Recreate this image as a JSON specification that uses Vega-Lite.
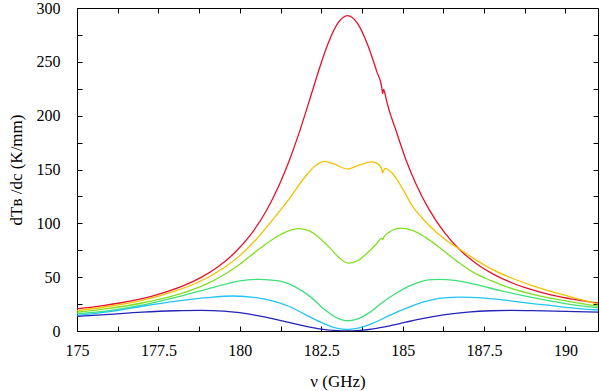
{
  "$schema": "https://vega.github.io/schema/vega-lite/v6.json",
  "width": 521,
  "height": 323,
  "autosize": "none",
  "padding": {"left": 77, "top": 8, "right": 2, "bottom": 60},
  "background": "white",
  "config": {
    "font": "Liberation Serif",
    "view": {"stroke": "black", "strokeWidth": 1},
    "axis": {"domain": false, "grid": false, "tickColor": "black", "tickSize": -5, "tickWidth": 1, "labelFont": "Liberation Serif", "titleFont": "Liberation Serif", "labelFontSize": 16, "labelColor": "black", "titleFontSize": 17, "titleFontWeight": "normal", "titleColor": "black"}
  },
  "data": {"values": [
    {"s":"r","nu":175,"v":20.6},{"s":"r","nu":175.31,"v":21.7},{"s":"r","nu":175.81,"v":23.6},{"s":"r","nu":176.31,"v":26},{"s":"r","nu":176.81,"v":28.9},{"s":"r","nu":177.31,"v":32.5},{"s":"r","nu":177.81,"v":37},{"s":"r","nu":178.31,"v":42.6},{"s":"r","nu":178.81,"v":49.8},{"s":"r","nu":179.31,"v":59.2},{"s":"r","nu":179.81,"v":71.7},{"s":"r","nu":180.31,"v":88.5},{"s":"r","nu":180.81,"v":111.5},{"s":"r","nu":181.21,"v":135.6},{"s":"r","nu":181.51,"v":157.6},{"s":"r","nu":181.81,"v":183.1},{"s":"r","nu":182.11,"v":211.4},{"s":"r","nu":182.41,"v":240.6},{"s":"r","nu":182.71,"v":267},{"s":"r","nu":183.01,"v":286},{"s":"r","nu":183.31,"v":293},{"s":"r","nu":183.61,"v":286},{"s":"r","nu":183.91,"v":267},{"s":"r","nu":184.21,"v":240.7},{"s":"r","nu":184.36,"v":226.3},{"s":"r","nu":184.385,"v":220.5},{"s":"r","nu":184.415,"v":224.5},{"s":"r","nu":184.45,"v":221.5},{"s":"r","nu":184.51,"v":213.5},{"s":"r","nu":184.81,"v":185},{"s":"r","nu":185.11,"v":158.4},{"s":"r","nu":185.41,"v":136.6},{"s":"r","nu":185.81,"v":112.9},{"s":"r","nu":186.31,"v":90.4},{"s":"r","nu":186.81,"v":73.9},{"s":"r","nu":187.31,"v":61.6},{"s":"r","nu":187.81,"v":52.4},{"s":"r","nu":188.31,"v":45.3},{"s":"r","nu":188.81,"v":39.8},{"s":"r","nu":189.31,"v":35.5},{"s":"r","nu":189.81,"v":32},{"s":"r","nu":190.31,"v":29.2},{"s":"r","nu":191,"v":26},
    {"s":"o","nu":175,"v":19},{"s":"o","nu":176,"v":23},{"s":"o","nu":177,"v":28.5},{"s":"o","nu":178,"v":37},{"s":"o","nu":178.5,"v":42.5},{"s":"o","nu":179,"v":49.5},{"s":"o","nu":179.5,"v":58.5},{"s":"o","nu":180,"v":70},{"s":"o","nu":180.5,"v":85},{"s":"o","nu":181,"v":103},{"s":"o","nu":181.5,"v":122},{"s":"o","nu":182,"v":143},{"s":"o","nu":182.3,"v":153},{"s":"o","nu":182.6,"v":157.5},{"s":"o","nu":182.9,"v":155},{"s":"o","nu":183.3,"v":150.5},{"s":"o","nu":183.7,"v":154.5},{"s":"o","nu":184.05,"v":157},{"s":"o","nu":184.25,"v":155},{"s":"o","nu":184.36,"v":150},{"s":"o","nu":184.39,"v":147},{"s":"o","nu":184.45,"v":151},{"s":"o","nu":184.7,"v":146},{"s":"o","nu":185,"v":132},{"s":"o","nu":185.3,"v":116},{"s":"o","nu":185.6,"v":105},{"s":"o","nu":185.85,"v":97},{"s":"o","nu":186.3,"v":85},{"s":"o","nu":186.7,"v":77},{"s":"o","nu":187.2,"v":67},{"s":"o","nu":187.7,"v":58},{"s":"o","nu":188.2,"v":51},{"s":"o","nu":189,"v":42},{"s":"o","nu":190,"v":33},{"s":"o","nu":191,"v":25},
    {"s":"g","nu":175,"v":17.5},{"s":"g","nu":176,"v":21},{"s":"g","nu":177,"v":26},{"s":"g","nu":178,"v":33},{"s":"g","nu":179,"v":44},{"s":"g","nu":179.5,"v":52},{"s":"g","nu":180,"v":62},{"s":"g","nu":180.5,"v":74},{"s":"g","nu":181,"v":85},{"s":"g","nu":181.5,"v":93},{"s":"g","nu":181.8,"v":95},{"s":"g","nu":182.1,"v":93.5},{"s":"g","nu":182.5,"v":85},{"s":"g","nu":182.77,"v":77},{"s":"g","nu":183,"v":69.5},{"s":"g","nu":183.33,"v":63},{"s":"g","nu":183.6,"v":65},{"s":"g","nu":183.9,"v":72},{"s":"g","nu":184.2,"v":81},{"s":"g","nu":184.35,"v":86},{"s":"g","nu":184.39,"v":85},{"s":"g","nu":184.43,"v":87.5},{"s":"g","nu":184.6,"v":92},{"s":"g","nu":184.92,"v":95.5},{"s":"g","nu":185.3,"v":93.5},{"s":"g","nu":185.7,"v":87},{"s":"g","nu":186.2,"v":76},{"s":"g","nu":186.7,"v":64},{"s":"g","nu":187.2,"v":54},{"s":"g","nu":187.7,"v":47},{"s":"g","nu":188.2,"v":41},{"s":"g","nu":189,"v":34},{"s":"g","nu":190,"v":28},{"s":"g","nu":191,"v":23},
    {"s":"sg","nu":175,"v":16},{"s":"sg","nu":176,"v":19},{"s":"sg","nu":177,"v":24},{"s":"sg","nu":178,"v":31},{"s":"sg","nu":179,"v":39},{"s":"sg","nu":179.5,"v":43},{"s":"sg","nu":180,"v":46.5},{"s":"sg","nu":180.6,"v":48},{"s":"sg","nu":181.2,"v":46.5},{"s":"sg","nu":181.7,"v":41},{"s":"sg","nu":182.2,"v":31},{"s":"sg","nu":182.6,"v":20},{"s":"sg","nu":183,"v":12},{"s":"sg","nu":183.3,"v":9.5},{"s":"sg","nu":183.6,"v":11},{"s":"sg","nu":184,"v":17.5},{"s":"sg","nu":184.4,"v":27},{"s":"sg","nu":184.8,"v":35},{"s":"sg","nu":185.3,"v":43},{"s":"sg","nu":185.8,"v":47.5},{"s":"sg","nu":186.1,"v":48},{"s":"sg","nu":186.6,"v":47},{"s":"sg","nu":187.2,"v":43.5},{"s":"sg","nu":188,"v":37.5},{"s":"sg","nu":189,"v":31},{"s":"sg","nu":190,"v":25.5},{"s":"sg","nu":191,"v":21.5},
    {"s":"c","nu":175,"v":14.5},{"s":"c","nu":176,"v":18},{"s":"c","nu":177,"v":23},{"s":"c","nu":178,"v":27.5},{"s":"c","nu":179,"v":31},{"s":"c","nu":179.8,"v":32.5},{"s":"c","nu":180.5,"v":31},{"s":"c","nu":181,"v":28},{"s":"c","nu":181.5,"v":23},{"s":"c","nu":182,"v":15.5},{"s":"c","nu":182.5,"v":8},{"s":"c","nu":183,"v":2.5},{"s":"c","nu":183.3,"v":1.5},{"s":"c","nu":183.6,"v":2.5},{"s":"c","nu":184.1,"v":7.5},{"s":"c","nu":184.6,"v":14.5},{"s":"c","nu":185.1,"v":21},{"s":"c","nu":185.6,"v":26.5},{"s":"c","nu":186.2,"v":30.5},{"s":"c","nu":186.8,"v":31.5},{"s":"c","nu":187.5,"v":30.5},{"s":"c","nu":188.3,"v":28},{"s":"c","nu":189,"v":25.5},{"s":"c","nu":190,"v":22},{"s":"c","nu":191,"v":19.5},
    {"s":"b","nu":175,"v":13.5},{"s":"b","nu":176,"v":15.5},{"s":"b","nu":177,"v":17.5},{"s":"b","nu":178,"v":18.8},{"s":"b","nu":178.8,"v":19.2},{"s":"b","nu":179.5,"v":18.5},{"s":"b","nu":180,"v":17},{"s":"b","nu":180.5,"v":14.5},{"s":"b","nu":181,"v":11.5},{"s":"b","nu":181.5,"v":8},{"s":"b","nu":182,"v":4.5},{"s":"b","nu":182.5,"v":1.8},{"s":"b","nu":183,"v":0.4},{"s":"b","nu":183.3,"v":0.1},{"s":"b","nu":183.6,"v":0.4},{"s":"b","nu":184.1,"v":2},{"s":"b","nu":184.6,"v":4.8},{"s":"b","nu":185.1,"v":8.2},{"s":"b","nu":185.6,"v":11.5},{"s":"b","nu":186.2,"v":14.8},{"s":"b","nu":187,"v":17.5},{"s":"b","nu":187.7,"v":18.8},{"s":"b","nu":188.3,"v":19.2},{"s":"b","nu":189,"v":18.9},{"s":"b","nu":190,"v":18.3},{"s":"b","nu":191,"v":17.5}
  ]},
  "layer": [
    {
      "mark": {"type": "line", "strokeWidth": 1.3, "interpolate": "monotone", "clip": true},
      "encoding": {
        "x": {"field": "nu", "type": "quantitative", "scale": {"domain": [175, 191], "nice": false, "zero": false},
              "axis": {"orient": "bottom", "title": "ν (GHz)", "titleFont": "Liberation Serif", "labelFont": "Liberation Serif", "titlePadding": 15, "labelPadding": 16,
                       "values": [175,176.25,177.5,178.75,180,181.25,182.5,183.75,185,186.25,187.5,188.75,190],
                       "labelExpr": "datum.value % 2.5 === 0 ? '' + datum.value : ''", "labelFlush": false}},
        "y": {"field": "v", "type": "quantitative", "scale": {"domain": [0, 300], "nice": false},
              "axis": {"orient": "left", "title": "dTʙ /dc (K/mm)", "titleFont": "Liberation Serif", "labelFont": "Liberation Serif", "titlePadding": 11, "labelPadding": 22,
                       "values": [0,25,50,75,100,125,150,175,200,225,250,275,300],
                       "labelExpr": "datum.value % 50 === 0 ? '' + datum.value : ''"}},
        "color": {"field": "s", "type": "nominal", "legend": null,
                  "scale": {"domain": ["r","o","g","sg","c","b"], "range": ["#e8102a","#f2c200","#80e020","#3ee07a","#22c4f0","#2424b8"]}}
      }
    },
    {
      "mark": {"type": "line", "opacity": 0},
      "encoding": {
        "x": {"field": "nu", "type": "quantitative",
              "axis": {"orient": "top", "title": null, "labels": false,
                       "values": [175,176.25,177.5,178.75,180,181.25,182.5,183.75,185,186.25,187.5,188.75,190]}},
        "y": {"field": "v", "type": "quantitative",
              "axis": {"orient": "right", "title": null, "labels": false,
                       "values": [0,25,50,75,100,125,150,175,200,225,250,275,300]}},
        "detail": {"field": "s", "type": "nominal"}
      }
    }
  ],
  "resolve": {"axis": {"x": "independent", "y": "independent"}}
}
